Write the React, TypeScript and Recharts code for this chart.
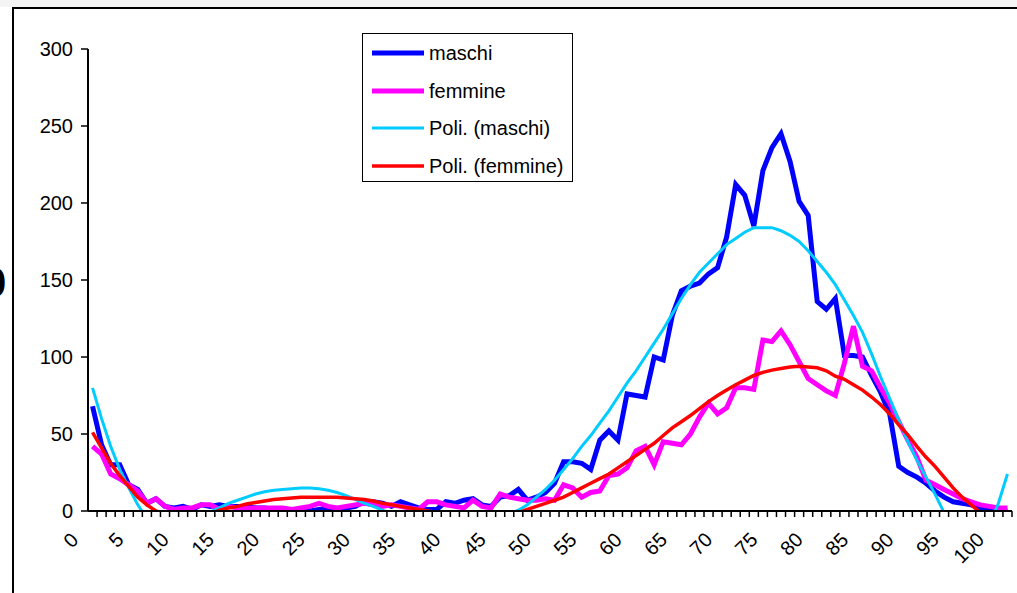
import React from 'react';
import { LineChart, Line, XAxis, YAxis, Legend } from 'recharts';

// ---- categories (age) ----
const ages: number[] = [
  0, 1, 2, 3, 4, 5, 6, 7, 8, 9, 10, 11, 12, 13, 14, 15, 16, 17, 18, 19, 20,
  21, 22, 23, 24, 25, 26, 27, 28, 29, 30, 31, 32, 33, 34, 35, 36, 37, 38, 39, 40,
  41, 42, 43, 44, 45, 46, 47, 48, 49, 50, 51, 52, 53, 54, 55, 56, 57, 58, 59, 60,
  61, 62, 63, 64, 65, 66, 67, 68, 69, 70, 71, 72, 73, 74, 75, 76, 77, 78, 79, 80,
  81, 82, 83, 84, 85, 86, 87, 88, 89, 90, 91, 92, 93, 94, 95, 96, 97, 98, 99, 100, 101,
];

const xTickLabels: string[] = [
  '0', '5', '10', '15', '20', '25', '30', '35', '40', '45', '50',
  '55', '60', '65', '70', '75', '80', '85', '90', '95', '100',
];

const yTicks: number[] = [0, 50, 100, 150, 200, 250, 300];

// ---- series values ----
const maschi: number[] = [
  68, 43, 30, 30, 17, 14, 5, 8, 3, 2, 3, 1, 4, 3, 4, 3, 3, 3, 2, 2, 1,
  1, 1, 1, 0, 1, 1, 0, 2, 3, 6, 6, 5, 3, 6, 4, 2, 1, 1, 6, 5,
  7, 8, 4, 3, 9, 10, 14, 7, 9, 12, 18, 32, 32, 31, 27, 46, 52, 46, 76, 75,
  74, 100, 98, 127, 143, 146, 148, 154, 158, 178, 212, 205, 185, 221, 236, 245, 227, 201, 192, 136,
  131, 138, 101, 101, 100, 88, 77, 63, 29, 25, 22, 18, 13, 9, 6, 5, 4, 2, 1, 0, 0,
];

const femmine: number[] = [
  42, 37, 24, 21, 17, 13, 5, 8, 3, 1, 2, 2, 4, 4, 1, 3, 2, 2, 2, 2, 2,
  2, 1, 2, 3, 5, 3, 2, 3, 4, 5, 4, 3, 4, 3, 2, 1, 6, 6, 4, 3,
  2, 7, 3, 2, 11, 9, 8, 7, 7, 8, 7, 17, 15, 9, 12, 13, 23, 24, 28, 39,
  42, 30, 45, 44, 43, 50, 61, 70, 63, 67, 80, 80, 79, 111, 110, 117, 108, 97, 86, 82,
  78, 75, 96, 120, 94, 91, 80, 70, 58, 46, 35, 20, 17, 14, 11, 8, 6, 4, 3, 2, 2,
];

const poliMaschi: number[] = [
  80, 60, 42, 27, 15, 4, -5, -10, -13, -14, -13, -10, -6, -0.5, 2, 5, 7, 9, 11, 12.5, 13.5,
  14, 14.5, 15, 15, 14.5, 13.5, 12, 10, 7.5, 5, 3, 0.5, -2, -4, -5, -6, -7, -8, -8, -8,
  -8, -7, -6, -5, -3.5, -2, 0.5, 4, 9, 14, 20, 27, 34, 42, 49, 57, 65, 74, 83, 91,
  100, 109, 118, 128, 138, 147, 155, 161, 167, 173, 177, 181, 184, 184, 184, 182, 179, 175, 169, 162,
  155, 147, 137, 127, 116, 102, 87, 73, 59, 45, 33, 22, 11, -1, -10, -16, -19, -18, -9, 5, 24,
];

const poliFemmine: number[] = [
  51, 41, 31, 23, 16, 9, 4, 0, -2, -4, -5, -5, -4, -2, 0.5, 2, 3, 4.5, 5.5, 6.5, 7.5,
  8, 8.5, 9, 9, 9, 9, 9, 8.5, 8, 7.5, 6.5, 5, 4, 3, 2, 1, 0, -1, -2, -3,
  -3.5, -4, -4, -3.5, -3, -2, -1, 1, 3, 5, 7, 9, 12, 15, 18, 21, 24, 28, 32, 36,
  40, 44, 49, 54, 58, 62, 66.5, 71, 75, 78.5, 82, 85, 88, 90, 91.5, 92.5, 93.5, 94, 93.5, 93,
  91, 87.5, 85.5, 82, 78.5, 74, 69, 63, 56, 49.5, 42, 35, 29, 22, 15, 9, 4, -1, -5, -9, -12,
];

const data = ages.map((age, i) => ({
  age,
  maschi: maschi[i],
  femmine: femmine[i],
  poliMaschi: poliMaschi[i],
  poliFemmine: poliFemmine[i],
}));

// ---- styling config ----
const FONT = '"Liberation Sans", Arial, Helvetica, sans-serif';
const W = 1017;
const H = 593;
const MARGIN = { top: 49, right: 5, left: 0, bottom: 22 };
const Y_AXIS_W = 88;
const X_AXIS_H = 60;
const HALF_BAND = (W - MARGIN.left - MARGIN.right - Y_AXIS_W) / ages.length / 2;

const SERIES = [
  { key: 'maschi', name: 'maschi', color: '#0000FF', width: 5 },
  { key: 'femmine', name: 'femmine', color: '#FF00FF', width: 5 },
  { key: 'poliMaschi', name: 'Poli. (maschi)', color: '#00CCFF', width: 3 },
  { key: 'poliFemmine', name: 'Poli. (femmine)', color: '#FF0000', width: 3.5 },
];

const XTick = (props: any) => {
  const { x, y, payload } = props;
  const label = String(payload.value);
  const ax = x - 13;
  const ay = y + 30;
  return (
    <g>
      <line x1={x + HALF_BAND} y1={y} x2={x + HALF_BAND} y2={y + 6} stroke="#000" strokeWidth={1.5} />
      {xTickLabels.includes(label) && (
        <text
          x={ax}
          y={ay}
          transform={`rotate(-45 ${ax} ${ay})`}
          textAnchor="end"
          fontSize={20}
          fontFamily={FONT}
          fill="#000"
        >
          {label}
        </text>
      )}
    </g>
  );
};

const LegendBox = () => (
  <div
    style={{
      position: 'relative',
      width: 211,
      height: 149,
      boxSizing: 'border-box',
      border: '1.5px solid #000',
      background: '#fff',
      fontFamily: FONT,
    }}
  >
    {SERIES.map((s, k) => (
      <div
        key={s.key}
        style={{ position: 'absolute', left: 0, top: 19 + k * 37.7 - 12, height: 24, width: 209 }}
      >
        <svg width={54} height={24} style={{ position: 'absolute', left: 8, top: 0 }}>
          <line x1={1} y1={12} x2={53} y2={12} stroke={s.color} strokeWidth={s.width} />
        </svg>
        <span
          style={{
            position: 'absolute',
            left: 66,
            top: 0,
            lineHeight: '24px',
            fontSize: 20,
            color: '#000',
            whiteSpace: 'nowrap',
          }}
        >
          {s.name}
        </span>
      </div>
    ))}
  </div>
);

export default function App() {
  return (
    <div
      style={{
        position: 'absolute',
        left: 0,
        top: 0,
        width: W,
        height: H,
        overflow: 'hidden',
        background: '#fff',
        fontFamily: FONT,
      }}
    >
      <div style={{ position: 'absolute', left: 0, top: 0, width: W, height: 7, background: '#f4f4f4' }} />
      <div
        style={{
          position: 'absolute',
          left: 12,
          top: 7,
          width: 1200,
          height: 800,
          border: '2px solid #000',
          boxSizing: 'border-box',
        }}
      />
      <span
        style={{
          position: 'absolute',
          left: -17,
          top: 262,
          fontSize: 42,
          lineHeight: 1,
          fontWeight: 'bold',
          color: '#000',
        }}
      >
        0
      </span>
      <div style={{ position: 'absolute', left: 0, top: 0 }}>
        <LineChart width={W} height={H} data={data} margin={MARGIN}>
          <XAxis
            dataKey="age"
            type="category"
            scale="band"
            interval={0}
            height={X_AXIS_H}
            tickLine={false}
            tickSize={0}
            tickMargin={0}
            axisLine={{ stroke: '#000', strokeWidth: 2 }}
            tick={<XTick />}
          />
          <YAxis
            type="number"
            domain={[0, 300]}
            ticks={yTicks}
            allowDataOverflow
            width={Y_AXIS_W}
            tickSize={7}
            tickMargin={8}
            axisLine={{ stroke: '#000', strokeWidth: 2 }}
            tickLine={{ stroke: '#000', strokeWidth: 1.5 }}
            tick={{ fontSize: 20, fill: '#000', fontFamily: FONT }}
          />
          <Legend
            layout="vertical"
            align="center"
            verticalAlign="middle"
            wrapperStyle={{ left: 362, top: 33, width: 211, height: 149 }}
            content={<LegendBox />}
          />
          {SERIES.map((s) => (
            <Line
              key={s.key}
              type="linear"
              dataKey={s.key}
              name={s.name}
              stroke={s.color}
              strokeWidth={s.width}
              dot={false}
              activeDot={false}
              isAnimationActive={false}
            />
          ))}
        </LineChart>
      </div>
    </div>
  );
}
